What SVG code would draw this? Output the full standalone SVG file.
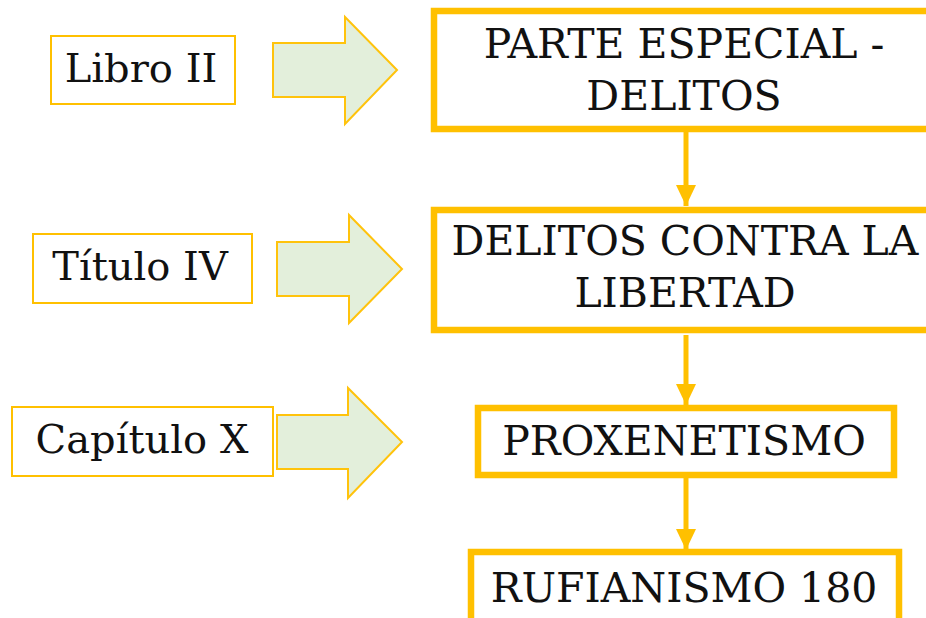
<svg xmlns="http://www.w3.org/2000/svg" width="926" height="618" viewBox="0 0 926 618">
<style>
.t{font-family:"DejaVu Serif","Liberation Serif",serif;font-size:41px;fill:#111;text-anchor:middle}
.s{font-size:40px}
.lab{fill:#fff;stroke:#FFC000;stroke-width:2}
.big{fill:#fff;stroke:#FFC000;stroke-width:6.5}
.blk{fill:#E2EFDA;stroke:#FFC000;stroke-width:2;stroke-linejoin:miter;opacity:0.95}
.con{stroke:#FFC000;stroke-width:5;fill:none}
</style>
<defs>
<marker id="ah" markerUnits="userSpaceOnUse" markerWidth="22" markerHeight="20" refX="21" refY="10" orient="auto">
<path d="M0,0 L21,10 L0,20 Z" fill="#FFC000"/>
</marker>
</defs>
<g id="connectors">
<line class="con" x1="686" y1="132" x2="686" y2="206" marker-end="url(#ah)"/>
<line class="con" x1="686" y1="335" x2="686" y2="405" marker-end="url(#ah)"/>
<line class="con" x1="686" y1="478" x2="686" y2="550" marker-end="url(#ah)"/>
</g>
<g id="arrow1"><path class="blk" d="M273,43 H345 V17 L397,70 L345,124 V97 H273 Z"/></g>
<g id="arrow2"><path class="blk" d="M277,242 H349 V215 L402,269 L349,323 V296 H277 Z"/></g>
<g id="arrow3"><path class="blk" d="M277,415 H348 V388 L402,442 L348,498 V469 H277 Z"/></g>
<g id="libro"><rect class="lab" x="51" y="36" width="184" height="68"/><text class="t s" x="141" y="82">Libro II</text></g>
<g id="titulo"><rect class="lab" x="33" y="234" width="219" height="69"/><text class="t s" x="140" y="280">Título IV</text></g>
<g id="capitulo"><rect class="lab" x="12" y="407" width="261" height="69"/><text class="t s" x="142" y="453">Capítulo X</text></g>
<g id="parte"><rect class="big" x="434" y="11" width="520" height="118"/><text class="t" x="684" y="58">PARTE ESPECIAL -</text><text class="t" x="684" y="110">DELITOS</text></g>
<g id="delitos"><rect class="big" x="434" y="210" width="520" height="120"/><text class="t" x="685" y="255">DELITOS CONTRA LA</text><text class="t" x="685" y="307">LIBERTAD</text></g>
<g id="proxenetismo"><rect class="big" x="478" y="408" width="416" height="67"/><text class="t" x="684" y="455">PROXENETISMO</text></g>
<g id="rufianismo"><rect class="big" x="471" y="552" width="428" height="80"/><text class="t" x="684" y="602">RUFIANISMO 180</text></g>
</svg>
